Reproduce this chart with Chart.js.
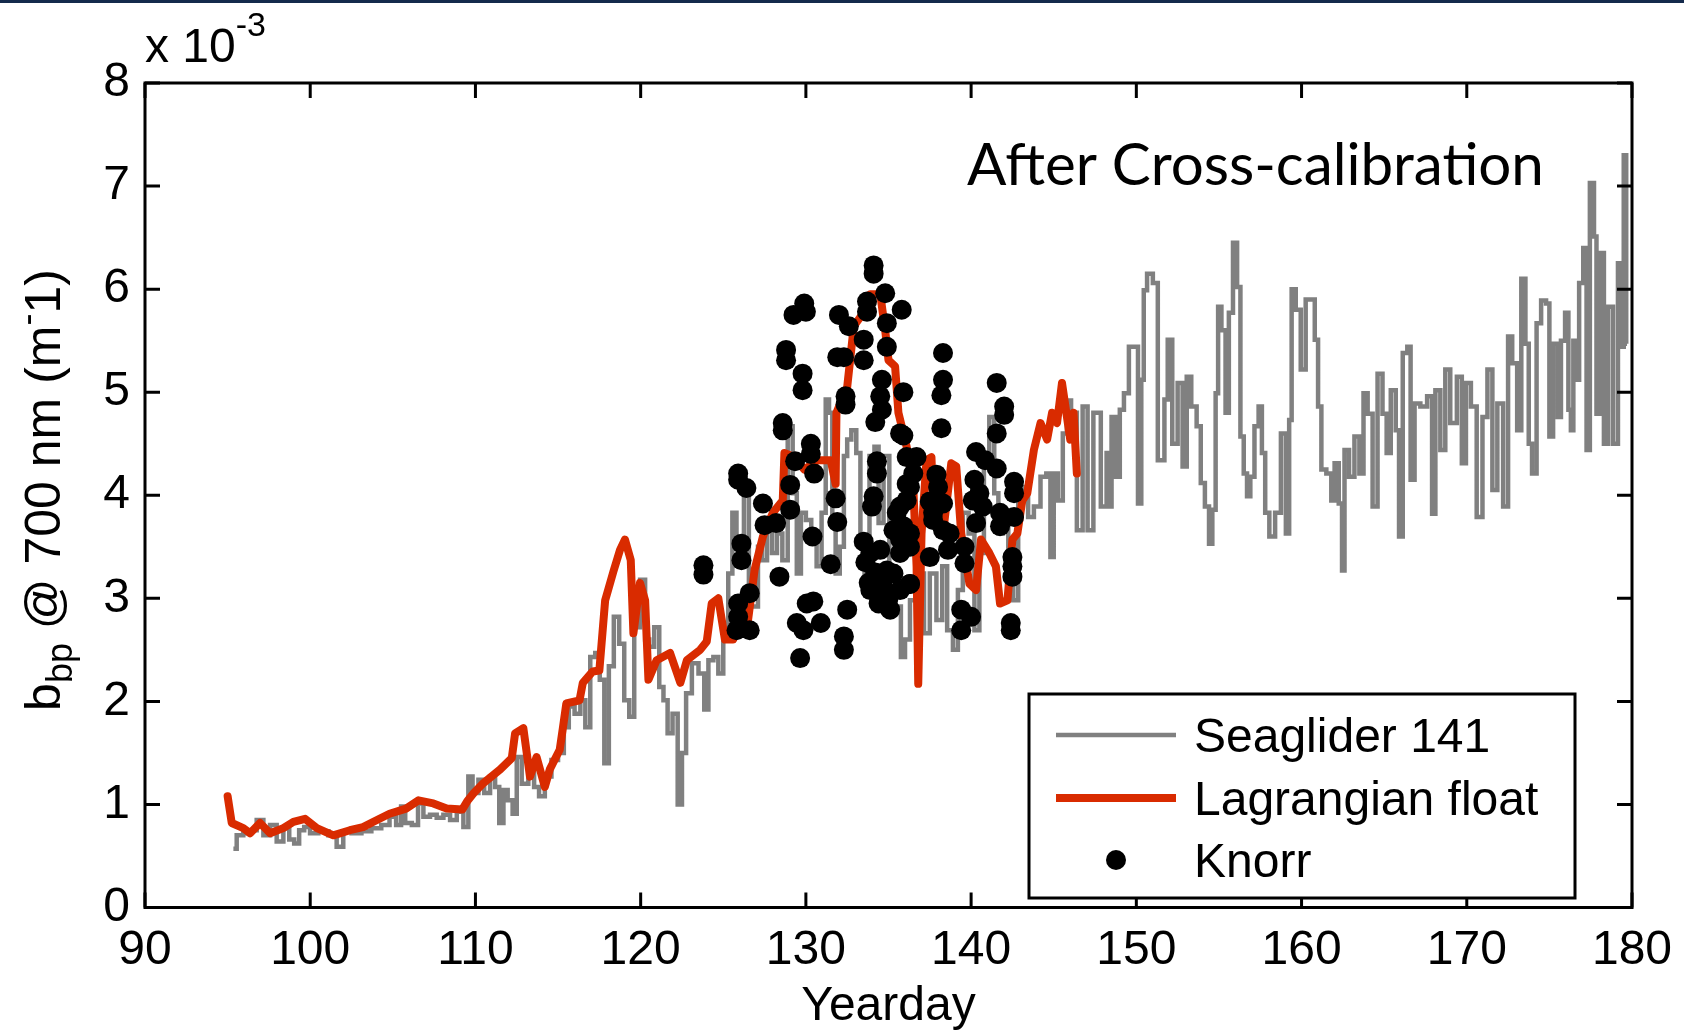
<!DOCTYPE html>
<html>
<head>
<meta charset="utf-8">
<title>bbp at 700 nm after cross-calibration</title>
<script src="https://cdn.jsdelivr.net/npm/chart.js@4.4.1/dist/chart.umd.min.js"></script>
<style>
    html, body { margin: 0; padding: 0; background: #fff; }
    #bbpChart { display: block; }
</style>
</head>
<body>
<canvas id="bbpChart" width="1684" height="1032"></canvas>
<script>
// Axis ticks
const dayTicks = [90, 100, 110, 120, 130, 140, 150, 160, 170, 180];
const bbpTicks = [0, 1, 2, 3, 4, 5, 6, 7, 8];

// Seaglider 141 (bbp in 1e-3 m^-1)
const gliderDay = [
    95.35, 95.75, 96.15, 96.56, 96.96, 97.37, 97.77, 98.17, 98.58, 98.88, 99.18, 99.48, 99.79,
    100.19, 100.8, 101.4, 101.8, 102.2, 102.8, 103.4, 104.0, 104.6, 105.0, 105.4, 105.6, 105.9,
    106.4, 106.65, 107.05, 107.45, 107.86, 108.26, 108.67, 109.07, 109.47, 109.67, 109.98,
    110.38, 110.68, 111.09, 111.29, 111.59, 111.8, 112.1, 112.4, 112.6, 113.0, 113.4, 113.7,
    114.0, 114.4, 114.8, 115.2, 115.5, 115.8, 116.2, 116.5, 116.8, 117.1, 117.4, 117.65, 117.95,
    118.2, 118.55, 118.85, 119.16, 119.46, 119.76, 120.17, 120.37, 120.67, 120.97, 121.28,
    121.48, 121.78, 122.08, 122.4, 122.6, 122.9, 123.3, 123.7, 124.0, 124.2, 124.6, 124.8,
    125.2, 125.4, 125.7, 125.9, 126.1, 126.4, 126.7, 127.0, 127.2, 127.5, 127.8, 128.1, 128.4,
    128.75, 129.05, 129.35, 129.55, 129.85, 130.15, 130.5, 130.8, 131.1, 131.3, 131.5, 131.7,
    131.9, 132.2, 132.4, 132.6, 132.9, 133.2, 133.4, 133.7, 134.0, 134.3, 134.5, 134.9, 135.2,
    135.6, 135.9, 136.1, 136.5, 137.0, 137.3, 137.7, 138.1, 138.4, 138.7, 139.1, 139.3, 139.7,
    140.0, 140.4, 140.6, 140.95, 141.25, 141.55, 141.75, 142.1, 142.4, 142.7, 143.0, 143.3,
    143.6, 144.0, 144.4, 144.7, 144.9, 145.1, 145.4, 145.7, 145.9, 146.2, 146.6, 146.9, 147.2,
    147.6, 148.1, 148.3, 148.4, 148.6, 148.9, 149.1, 149.4, 149.7, 150.0, 150.2, 150.4, 150.5,
    150.8, 151.2, 151.4, 151.6, 151.8, 152.0, 152.35, 152.65, 152.95, 153.15, 153.5, 153.8,
    154.0, 154.3, 154.5, 154.7, 154.9, 155.0, 155.3, 155.5, 155.7, 156.0, 156.2, 156.4, 156.6,
    156.8, 157.0, 157.3, 157.5, 157.7, 157.9, 158.2, 158.6, 158.9, 159.2, 159.3, 159.5, 159.8,
    160.1, 160.4, 160.7, 160.9, 161.1, 161.3, 161.7, 161.9, 162.1, 162.4, 162.5, 162.7, 163.05,
    163.35, 163.65, 163.85, 164.15, 164.45, 164.75, 165.05, 165.25, 165.55, 165.85, 165.95,
    166.3, 166.5, 166.7, 166.98, 167.4, 167.8, 168.0, 168.2, 168.6, 168.8, 169.2, 169.6, 169.8,
    170.1, 170.4, 170.8, 171.1, 171.4, 171.7, 172.0, 172.4, 172.6, 172.9, 173.2, 173.4, 173.7,
    173.8, 174.1, 174.35, 174.65, 174.95, 175.05, 175.4, 175.6, 175.8, 176.1, 176.2, 176.4,
    176.5, 176.7, 176.9, 177.2, 177.3, 177.6, 177.8, 177.9, 178.2, 178.4, 178.7, 179.0, 179.3,
    179.4, 179.6, 179.7
];
const gliderBbp = [
    0.57, 0.70, 0.72, 0.75, 0.85, 0.70, 0.80, 0.64, 0.77, 0.66, 0.62, 0.75, 0.78,
    0.72, 0.74, 0.70, 0.59, 0.74, 0.72, 0.74, 0.77, 0.80, 0.88, 0.80, 0.98, 0.82,
    0.80, 1.01, 0.88, 0.90, 0.87, 0.90, 0.85, 0.93, 0.78, 1.27, 1.11,
    1.24, 1.11, 1.27, 1.17, 0.82, 1.14, 1.04, 0.91, 1.46, 1.20, 1.37, 1.17,
    1.08, 1.27, 1.43, 1.50, 1.75, 1.95, 1.88, 2.01, 1.75, 2.43, 2.47, 2.21, 1.40,
    2.34, 2.82, 2.56, 2.01, 1.85, 2.72, 3.18, 2.60, 2.53, 2.72, 2.14,
    2.01, 1.69, 1.88, 1.00, 1.50, 2.08, 2.37, 2.27, 1.92, 2.40, 2.43, 2.27,
    2.60, 3.24, 3.83, 3.57, 3.31, 4.02, 2.92, 2.92, 3.50, 3.37, 3.70, 3.44, 3.63,
    3.37, 4.67, 4.02, 3.24, 3.83, 3.76, 3.57, 3.31, 3.83, 4.93, 4.80, 3.73,
    3.24, 3.50, 4.38, 4.54, 4.63, 4.41, 3.57, 3.08, 4.38, 4.47, 3.73, 4.38, 3.31,
    2.92, 2.43, 2.60, 2.98, 3.24, 2.66, 3.24, 2.79, 3.31, 2.69, 2.50, 3.08, 3.83,
    3.63, 2.69, 3.44, 4.28, 4.76, 4.02, 3.63, 3.79, 3.31, 2.98, 3.95, 4.08,
    3.79, 3.89, 4.18, 4.21, 3.40, 4.21, 3.95, 4.60, 4.92, 4.80, 3.66, 4.86, 3.66,
    4.80, 3.89, 4.41, 3.89, 4.76, 4.18, 4.83, 4.99, 5.44, 5.44, 3.92, 5.12, 5.99,
    6.15, 6.06, 4.34, 4.34, 4.93, 5.51, 4.50, 5.09, 4.28, 5.15, 4.86, 4.67,
    4.12, 3.89, 3.53, 3.86, 4.99, 5.83, 5.60, 4.80, 5.77, 6.45, 6.02, 4.57, 4.21,
    3.99, 4.18, 4.67, 4.86, 4.41, 3.83, 3.60, 3.83, 4.60, 3.63, 4.73, 6.00, 5.80,
    5.22, 5.90, 5.90, 5.51, 4.86, 4.25, 4.21, 3.95, 4.31, 3.92, 3.27, 4.44, 4.18,
    4.57, 4.21, 4.99, 4.79, 3.89, 5.18, 4.79, 4.41, 5.02, 4.63, 3.60,
    5.38, 5.44, 4.15, 4.89, 4.86, 4.96, 3.82, 5.02, 4.44, 5.22, 4.70, 5.15, 4.31,
    5.09, 4.86, 3.79, 4.76, 5.22, 4.05, 4.89, 3.89, 5.54, 5.28, 4.63, 6.10, 5.47,
    4.50, 4.21, 5.67, 5.89, 5.86, 4.57, 5.47, 4.76, 5.50, 5.77, 4.83, 4.63,
    5.50, 5.12, 6.06, 6.40, 4.44, 7.03, 6.51, 4.79, 6.35, 4.50, 5.83, 4.50, 6.25,
    5.44, 7.30, 5.47
];

// Lagrangian float
const floatDay = [
    95.0, 95.25, 95.95, 96.36, 96.96, 97.57, 98.37, 98.98, 99.69, 100.4, 101.4, 102.4, 103.2,
    103.8, 104.8, 105.8, 106.55, 107.45, 108.26, 109.2, 109.5, 109.9, 110.5, 111.5, 112.2,
    112.4, 112.9, 113.3, 113.7, 114.2, 114.5, 115.1, 115.3, 115.5, 116.3, 116.5, 117.1, 117.5,
    117.85, 118.35, 118.75, 119.05, 119.4, 119.56, 119.96, 120.27, 120.47, 120.97, 121.78,
    122.4, 122.8, 123.6, 124.0, 124.3, 124.7, 125.1, 125.6, 126.0, 126.5, 126.9, 127.4, 128.0,
    128.6, 128.7, 129.3, 129.9, 130.7, 131.5, 131.8, 131.85, 132.5, 132.9, 133.3, 133.7, 133.9,
    134.5, 134.8, 135.0, 135.4, 135.6, 136.1, 136.5, 136.7, 136.8, 137.0, 137.3, 137.6, 137.7,
    138.3, 138.8, 139.1, 139.4, 139.9, 140.3, 140.6, 141.1, 141.5, 141.75, 142.2, 142.5, 142.8,
    143.1, 143.4, 143.8, 144.2, 144.6, 144.9, 145.2, 145.5, 145.8, 146.0, 146.2, 146.4
];
const floatBbp = [
    1.08, 0.82, 0.77, 0.72, 0.82, 0.72, 0.77, 0.83, 0.86, 0.77, 0.70, 0.75, 0.78,
    0.83, 0.91, 0.96, 1.04, 1.01, 0.96, 0.95, 1.03, 1.11, 1.21, 1.34, 1.45,
    1.69, 1.74, 1.27, 1.46, 1.17, 1.34, 1.53, 1.75, 1.98, 2.01, 2.18, 2.29, 2.30,
    2.98, 3.26, 3.47, 3.57, 3.37, 2.66, 3.15, 2.98, 2.21, 2.40, 2.47,
    2.18, 2.40, 2.50, 2.58, 2.95, 3.00, 2.60, 2.60, 2.76, 2.79, 3.28, 3.60, 3.83,
    3.95, 4.41, 4.37, 4.25, 4.34, 4.34, 4.11, 4.80, 5.05, 5.64, 5.73, 5.83, 5.95,
    5.95, 5.60, 5.31, 5.25, 4.80, 4.47, 4.08, 3.31, 2.17, 3.63, 4.34, 4.37, 3.95,
    3.63, 4.31, 4.28, 3.63, 3.14, 3.08, 3.57, 3.44, 3.31, 2.95, 2.98, 3.57, 3.63,
    3.95, 4.02, 4.44, 4.70, 4.54, 4.80, 4.70, 5.09, 4.76, 4.54, 4.80, 4.21
];

// Knorr ship samples
const knorrDay = [
    123.8, 123.8, 125.9, 125.9, 126.4, 127.4, 127.5, 128.2, 126.1, 126.1, 125.9, 125.9, 125.8,
    126.6, 126.6, 128.4, 128.6, 128.6, 128.8, 128.8, 129.25, 129.9, 130.0, 129.8, 129.8,
    130.3, 130.3, 129.35, 130.5, 129.05, 129.05, 130.4, 129.45, 130.05, 130.45, 130.9, 129.85,
    129.65, 131.9, 132.3, 132.0, 132.6, 132.4, 132.4, 131.8, 131.9, 131.5, 132.5, 132.3, 132.3,
    134.1, 134.1, 133.7, 133.7, 133.5, 133.5, 134.8, 134.9, 134.9, 135.8, 134.6, 134.5, 134.6,
    134.2, 135.9, 135.7, 134.3, 134.3, 134.1, 134.0, 136.1, 133.9, 134.5, 133.9, 134.5, 135.1,
    135.5, 135.3, 135.7, 136.3, 136.1, 136.5, 135.3, 134.9, 133.6, 133.8, 134.2, 134.7, 134.4,
    135.0, 133.5,
    138.3, 138.3, 138.2, 138.2, 141.55, 142.0, 142.0, 141.55, 135.9, 140.3, 140.85, 141.55,
    136.7, 136.3, 137.9, 138.0, 140.2, 142.6, 142.6, 135.7, 136.1, 137.5, 138.3, 140.1, 140.5,
    140.7, 141.75, 141.75, 142.6, 140.3, 135.9, 136.3, 137.7, 137.7, 138.3, 138.7, 135.7,
    136.3, 137.5, 138.6, 139.6, 139.6, 142.5, 142.5, 142.5, 136.3, 135.7, 139.4, 140.0, 139.4,
    142.4, 142.4
];
const knorrBbp = [
    3.32, 3.23, 4.21, 4.15, 4.07, 3.92, 3.71, 3.73, 3.53, 3.37, 2.95, 2.82, 2.69,
    3.05, 2.69, 3.21, 4.70, 4.63, 5.41, 5.31, 5.75, 5.86, 5.78, 5.18, 5.02,
    4.50, 4.40, 4.33, 4.21, 4.10, 3.86, 3.60, 2.76, 2.95, 2.97, 2.76, 2.69,
    2.42, 5.34, 5.34, 5.75, 5.64, 4.96, 4.88, 3.97, 3.74, 3.33, 2.89, 2.63, 2.50,
    6.23, 6.15, 5.88, 5.78, 5.51, 5.31, 5.96, 5.67, 5.44, 5.80, 5.12, 4.96, 4.83,
    4.71, 5.00, 4.60, 4.33, 4.21, 3.99, 3.89, 4.37, 3.44, 3.47, 3.08, 3.05, 2.89,
    3.83, 3.66, 3.57, 3.14, 4.11, 4.21, 3.24, 3.27, 3.35, 3.15, 3.25, 3.10, 2.95,
    3.00, 3.55,
    5.38, 5.12, 4.97, 4.65, 5.09, 4.86, 4.78, 4.60, 4.58, 4.42, 4.34, 4.26,
    4.37, 4.08, 4.20, 4.08, 4.15, 4.13, 4.02, 3.89, 3.95, 3.94, 3.92, 3.95, 4.02,
    3.89, 3.83, 3.70, 3.79, 3.73, 3.70, 3.63, 3.83, 3.76, 3.66, 3.63, 3.44,
    3.50, 3.40, 3.47, 3.50, 3.34, 3.40, 3.31, 3.21, 3.14, 3.08, 2.89, 2.82, 2.69,
    2.76, 2.69
];

const toPoints = (xs, ys) => xs.map((x, i) => ({ x: x, y: ys[i] }));

const ARIAL = "'Liberation Sans', Arial, sans-serif";
const TICK_LEN = 15;

// white page with the slide's navy strip along the top
const backgroundPlugin = {
    id: 'pageBackground',
    beforeDraw(chart) {
        const ctx = chart.ctx;
        ctx.save();
        ctx.fillStyle = '#ffffff';
        ctx.fillRect(0, 0, chart.width, chart.height);
        ctx.fillStyle = '#142a4c';
        ctx.fillRect(0, 0, chart.width, 3);
        ctx.restore();
    }
};

// MATLAB style box with inward ticks on every side
const framePlugin = {
    id: 'axesFrame',
    afterDatasetsDraw(chart) {
        const { ctx, chartArea: a, scales } = chart;
        ctx.save();
        ctx.strokeStyle = '#000';
        ctx.lineWidth = 3;
        ctx.beginPath();
        dayTicks.forEach(d => {
            const px = scales.x.getPixelForValue(d);
            ctx.moveTo(px, a.bottom); ctx.lineTo(px, a.bottom - TICK_LEN);
            ctx.moveTo(px, a.top); ctx.lineTo(px, a.top + TICK_LEN);
        });
        bbpTicks.forEach(v => {
            const py = scales.y.getPixelForValue(v);
            ctx.moveTo(a.left, py); ctx.lineTo(a.left + TICK_LEN, py);
            ctx.moveTo(a.right, py); ctx.lineTo(a.right - TICK_LEN, py);
        });
        ctx.stroke();
        ctx.strokeRect(a.left, a.top, a.right - a.left, a.bottom - a.top);
        ctx.restore();
    }
};

// draws a run of text pieces, each with its own size and vertical shift
function drawRuns(ctx, runs, x, y) {
    runs.forEach(r => {
        ctx.font = r.size + 'px ' + ARIAL;
        ctx.fillText(r.text, x, y + r.shift);
        x += ctx.measureText(r.text).width;
    });
}
function runsWidth(ctx, runs) {
    return runs.reduce((w, r) => {
        ctx.font = r.size + 'px ' + ARIAL;
        return w + ctx.measureText(r.text).width;
    }, 0);
}

const labelsPlugin = {
    id: 'figureLabels',
    afterDraw(chart) {
        const { ctx, chartArea: a } = chart;
        ctx.save();
        ctx.fillStyle = '#000';
        ctx.textAlign = 'left';
        ctx.textBaseline = 'alphabetic';

        // exponent above the y axis
        drawRuns(ctx, [
            { text: 'x 10', size: 48, shift: 0 },
            { text: '-3', size: 34, shift: -26 }
        ], a.left, 62);

        // y axis title, b_bp with subscript, (m^-1) written the MATLAB way
        const yTitle = [
            { text: 'b', size: 50, shift: 0 },
            { text: 'bp', size: 36, shift: 12 },
            { text: ' @ 700 nm (m', size: 50, shift: 0 },
            { text: '-', size: 36, shift: -21 },
            { text: '1)', size: 50, shift: 0 }
        ];
        ctx.save();
        ctx.translate(60, 490);
        ctx.rotate(-Math.PI / 2);
        drawRuns(ctx, yTitle, -runsWidth(ctx, yTitle) / 2, 0);
        ctx.restore();

        // panel caption
        const caption = 'After Cross-calibration';
        ctx.font = '56px Lato, "Open Sans", sans-serif';
        const w = ctx.measureText(caption).width;
        const size = 56 * 577 / w;
        ctx.font = size.toFixed(1) + 'px Lato, "Open Sans", sans-serif';
        ctx.fillText(caption, 967, 185);

        // legend box
        const box = { left: 1029, top: 694, right: 1575, bottom: 898 };
        ctx.fillStyle = '#fff';
        ctx.fillRect(box.left, box.top, box.right - box.left, box.bottom - box.top);
        ctx.strokeStyle = '#000';
        ctx.lineWidth = 3;
        ctx.strokeRect(box.left, box.top, box.right - box.left, box.bottom - box.top);
        const rows = [735, 798, 860];
        ctx.font = '48px ' + ARIAL;
        chart.data.datasets.forEach((ds, i) => {
            const y = rows[i];
            if (ds.showLine) {
                ctx.strokeStyle = ds.borderColor;
                ctx.lineWidth = ds.borderWidth;
                ctx.beginPath();
                ctx.moveTo(1056, y);
                ctx.lineTo(1176, y);
                ctx.stroke();
            } else {
                ctx.fillStyle = ds.backgroundColor;
                ctx.beginPath();
                ctx.arc(1116, y, ds.pointRadius, 0, Math.PI * 2);
                ctx.fill();
            }
            ctx.fillStyle = '#000';
            ctx.fillText(ds.label, 1194, y + 17);
        });
        ctx.restore();
    }
};

const ctx = document.getElementById('bbpChart');
new Chart(ctx, {
    type: 'scatter',
    data: {
        datasets: [
            {
                label: 'Seaglider 141',
                data: toPoints(gliderDay, gliderBbp),
                showLine: true,
                stepped: 'middle',
                borderColor: '#808080',
                borderWidth: 4.5,
                pointRadius: 0,
                order: 3
            },
            {
                label: 'Lagrangian float',
                data: toPoints(floatDay, floatBbp),
                showLine: true,
                borderColor: '#d92b00',
                borderWidth: 8,
                borderJoinStyle: 'round',
                borderCapStyle: 'round',
                pointRadius: 0,
                order: 2
            },
            {
                label: 'Knorr',
                data: toPoints(knorrDay, knorrBbp),
                showLine: false,
                backgroundColor: '#000',
                borderWidth: 0,
                pointRadius: 10,
                order: 1
            }
        ]
    },
    options: {
        responsive: false,
        animation: false,
        events: [],
        layout: { padding: { top: 83, right: 52, bottom: 0, left: 0 } },
        plugins: {
            legend: { display: false },
            tooltip: { enabled: false }
        },
        scales: {
            x: {
                type: 'linear',
                min: 90,
                max: 180,
                afterBuildTicks: scale => { scale.ticks = dayTicks.map(v => ({ value: v })); },
                afterFit: scale => {
                    scale.height = 124.5;
                    scale.paddingLeft = 0;
                    scale.paddingRight = 0;
                },
                grid: { display: false, drawTicks: false },
                border: { display: false },
                ticks: {
                    autoSkip: false,
                    maxRotation: 0,
                    padding: 14,
                    color: '#000',
                    font: { family: ARIAL, size: 48 }
                },
                title: {
                    display: true,
                    text: 'Yearday',
                    color: '#000',
                    font: { family: ARIAL, size: 48 },
                    padding: { top: 0, bottom: -4 }
                }
            },
            y: {
                type: 'linear',
                min: 0,
                max: 8,
                afterBuildTicks: scale => { scale.ticks = bbpTicks.map(v => ({ value: v })); },
                afterFit: scale => {
                    scale.width = 145;
                    scale.paddingTop = 0;
                    scale.paddingBottom = 0;
                },
                grid: { display: false, drawTicks: false },
                border: { display: false },
                ticks: {
                    autoSkip: false,
                    padding: 15,
                    color: '#000',
                    font: { family: ARIAL, size: 48 }
                }
            }
        }
    },
    plugins: [backgroundPlugin, framePlugin, labelsPlugin]
});
</script>
</body>
</html>
